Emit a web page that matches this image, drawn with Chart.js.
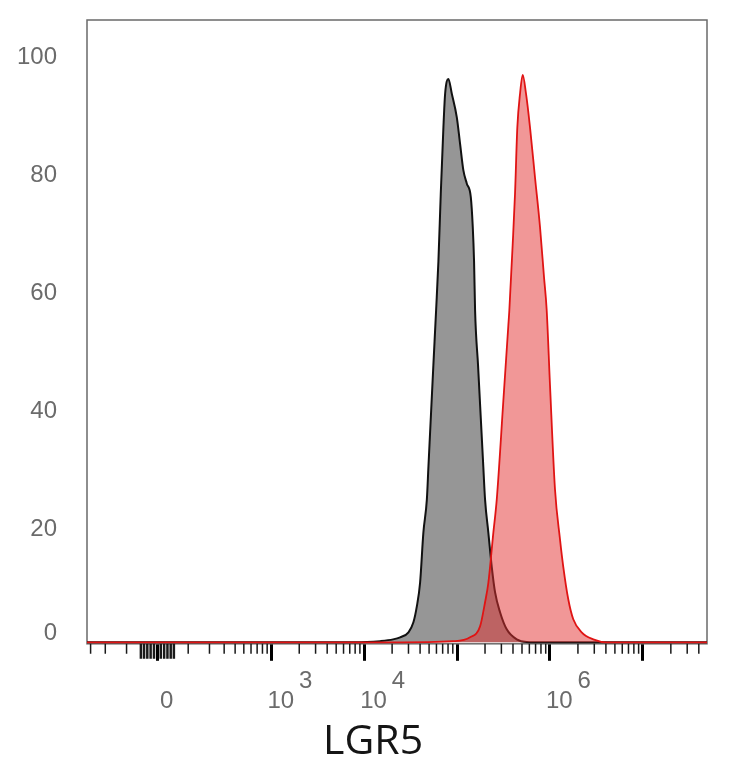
<!DOCTYPE html>
<html>
<head>
<meta charset="utf-8">
<title>LGR5</title>
<script src="https://cdn.jsdelivr.net/npm/chart.js"></script>
<style>
  html, body { margin: 0; padding: 0; background: #fff; }
  #wrap { width: 734px; height: 768px; }
</style>
</head>
<body>
<div id="wrap"><canvas id="histo"></canvas></div>
<script>
// intensity (LGR5 fluorescence) and % of max
var controlX = [-330, 0, 5000, 10700, 14900, 20500, 24400, 30000, 33900, 36900, 40000, 43400, 47300, 49200, 55600,
                59500, 63000, 66800, 71300, 74400, 80700, 87800, 99400, 107800, 117000, 127200, 140500, 147600,
                152400, 156300, 168300, 190500, 200200, 217200, 236300, 256400, 290200, 342500, 438800, 562100,
                800000, 4.9e7];
var controlY = [0, 0, 0, 0.05, 0.2, 0.5, 0.85, 1.7, 3.4, 6.1, 10.1, 18.6, 24.2, 29.8, 47.0,
                56.3, 64.6, 76.1, 87.3, 93.0, 95.5, 93.0, 89.0, 84.5, 80.0, 77.8, 75.5, 70.4,
                64.6, 56.3, 46.9, 30.6, 24.2, 18.6, 12.8, 8.5, 5.1, 2.2, 0.5, 0.05,
                0, 0];

var lgr5X = [-330, 20500, 90600, 138100, 176900, 200200, 217200, 245800, 267400, 314800, 356400, 365400,
             397400, 420700, 445300, 476200, 509100, 552500, 609900, 690300, 781500, 862800, 922300,
             1000800, 1132000, 1281600, 1391000, 1574000, 1782000, 2194000, 2924000, 4075000, 4.9e7];
var lgr5Y = [0, 0, 0.2, 0.85, 2.7, 6.8, 10.1, 18.6, 24.2, 40.9, 53.7, 56.3,
             67.6, 76.1, 87.3, 93.0, 96.2, 93.0, 87.3, 78.8, 70.4, 61.9, 56.3,
             43.6, 26.0, 17.5, 12.8, 7.3, 3.9, 1.7, 0.5, 0, 0];

var xTickValues = [0, 1e3, 1e4, 1e5, 1e6, 1e7];
var xTickLabels = ['0', '10^3', '10^4', '', '10^6', ''];
var yTickValues = [0, 20, 40, 60, 80, 100];
var xRange = [-330, 4.9e7];
var yRange = [-0.25, 105.5];

// arcsinh display transform, roughly one unit per decade above 10^3
var COFACTOR = 119;
function biex(v) { return Math.asinh(v / COFACTOR) / Math.LN10; }

function points(xs, ys) {
  return xs.map(function (x, i) { return { x: biex(x), y: ys[i] }; });
}

// minor ticks: 1..9 times each decade above 100 (both signs), dense linear ticks near zero
var minorTicks = [], linearTicks = [];
for (var k = 2; k <= 7; k++) {
  for (var m = 1; m <= 9; m++) {
    var v = m * Math.pow(10, k);
    if (xTickValues.indexOf(v) < 0) { minorTicks.push(v); }
    minorTicks.push(-v);
  }
}
for (var j = 1; j <= 5; j++) { linearTicks.push(j * 10, -j * 10); }

function drawTicks(chart, list, len, width) {
  var ctx = chart.ctx, a = chart.chartArea, xs = chart.scales.x;
  ctx.lineWidth = width;
  ctx.beginPath();
  list.forEach(function (v) {
    var t = biex(v);
    if (t <= xs.min || t >= xs.max) return;
    var px = xs.getPixelForValue(t);
    ctx.moveTo(px, a.bottom);
    ctx.lineTo(px, a.bottom + len);
  });
  ctx.stroke();
}

var axisDecor = {
  id: 'axisDecor',
  beforeDatasetsDraw: function (chart) {
    var ctx = chart.ctx, a = chart.chartArea;
    ctx.save();
    ctx.strokeStyle = '#6a6a6a';
    ctx.lineWidth = 1.5;
    ctx.strokeRect(a.left, a.top, a.right - a.left, a.bottom - a.top);
    ctx.restore();
  },
  afterDraw: function (chart) {
    var ctx = chart.ctx;
    ctx.save();
    ctx.strokeStyle = '#1a1a1a';
    drawTicks(chart, minorTicks, 10, 1.5);
    drawTicks(chart, linearTicks, 15, 2.5);
    ctx.restore();
  }
};

var tickFamily = "'Liberation Sans', Arial, sans-serif";

new Chart(document.getElementById('histo'), {
  type: 'line',
  data: {
    datasets: [
      {
        label: 'LGR5',
        data: points(lgr5X, lgr5Y),
        borderColor: '#e01414',
        borderWidth: 1.8,
        backgroundColor: 'rgba(228, 48, 48, 0.5)',
        fill: 'origin',
        pointRadius: 0,
        cubicInterpolationMode: 'monotone',
        clip: false
      },
      {
        label: 'Isotype',
        data: points(controlX, controlY),
        borderColor: '#111',
        borderWidth: 2,
        backgroundColor: 'rgba(70, 70, 70, 0.57)',
        fill: 'origin',
        pointRadius: 0,
        cubicInterpolationMode: 'monotone',
        clip: false
      }
    ]
  },
  options: {
    responsive: true,
    maintainAspectRatio: false,
    animation: false,
    layout: { padding: { left: 0, right: 27, top: 20, bottom: 0 } },
    plugins: {
      legend: { display: false },
      tooltip: { enabled: false },
      title: {
        display: true,
        fullSize: false,
        position: 'bottom',
        text: 'LGR5\u2003\u2009',
        color: '#151515',
        font: { family: "'Open Sans'", size: 41, weight: 'normal', lineHeight: 1.2 },
        padding: { top: 0, bottom: 1 }
      }
    },
    scales: {
      x: {
        type: 'linear',
        min: biex(xRange[0]),
        max: biex(xRange[1]),
        afterBuildTicks: function (s) {
          s.ticks = xTickValues.map(function (v) { return { value: biex(v) }; });
        },
        afterFit: function (s) {
          s.height = 74;
          s.paddingLeft = 0;
          s.paddingRight = 0;
        },
        grid: { drawOnChartArea: false, drawTicks: true, tickLength: 17, tickWidth: 3, tickColor: '#000' },
        border: { display: false },
        ticks: {
          autoSkip: false,
          maxRotation: 0,
          align: 'start',
          labelOffset: -4,
          padding: 10,
          color: '#6b6b6b',
          font: { family: tickFamily, size: 24, lineHeight: 0.8625 },
          callback: function (val, i) {
            var lab = xTickLabels[i] || '';
            if (lab.indexOf('^') > 0) {
              var p = lab.split('^');
              return ['\u2007\u2007\u2009' + p[1], p[0]];
            }
            return lab ? ['', ' ' + lab] : '';
          }
        }
      },
      y: {
        min: yRange[0],
        max: yRange[1],
        afterBuildTicks: function (s) {
          s.ticks = yTickValues.map(function (v) { return { value: v }; });
        },
        afterFit: function (s) {
          s.width = 87;
          s.paddingTop = 0;
          s.paddingBottom = 0;
        },
        grid: { display: false, drawTicks: false },
        border: { display: false },
        ticks: {
          padding: 30,
          labelOffset: 5,
          color: '#6b6b6b',
          font: { family: tickFamily, size: 24, lineHeight: 1.167 },
          callback: function (val) { return val === 0 ? ['0', ''] : String(val); }
        }
      }
    }
  },
  plugins: [axisDecor]
});
</script>
</body>
</html>
